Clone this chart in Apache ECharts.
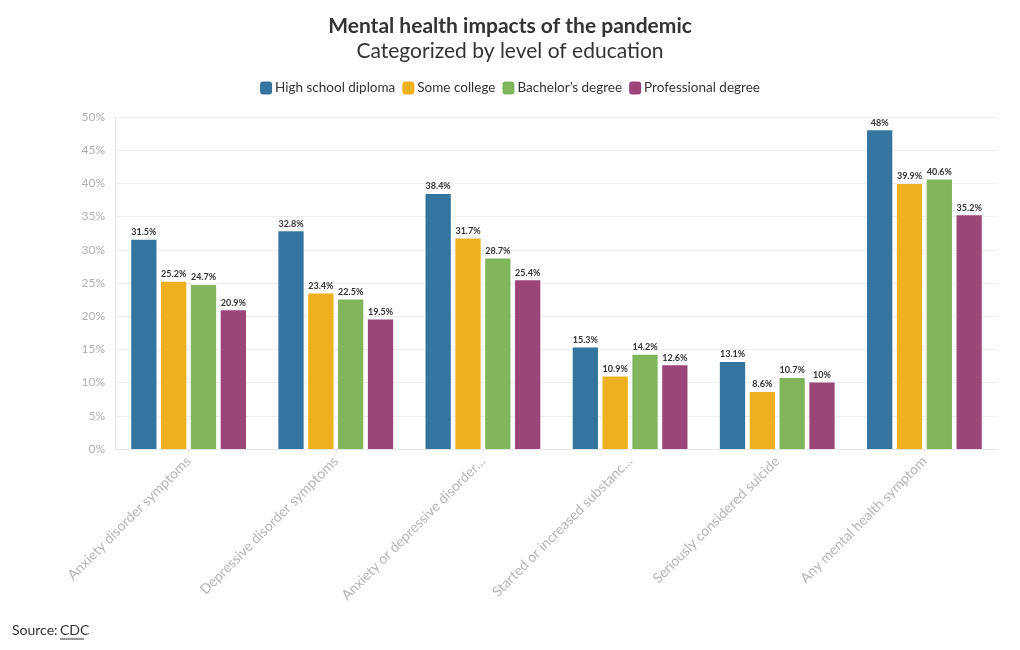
<!DOCTYPE html>
<html>
<head>
<meta charset="utf-8">
<title>Mental health impacts of the pandemic</title>
<script src="https://cdn.jsdelivr.net/npm/echarts@6/dist/echarts.min.js"></script>
<style>
  html, body { margin: 0; padding: 0; background: #ffffff; }
  #main { width: 1020px; height: 650px; }
</style>
</head>
<body>
<div id="main"></div>
<script>
// 数据
var categories = ['Anxiety disorder symptoms', 'Depressive disorder symptoms', 'Anxiety or depressive disorder…',
  'Started or increased substanc…', 'Seriously considered suicide', 'Any mental health symptom'];
var seriesNames = ['High school diploma', 'Some college', 'Bachelor’s degree', 'Professional degree'];
var highSchool = [31.5, 32.8, 38.4, 15.3, 13.1, 48];
var someCollege = [25.2, 23.4, 31.7, 10.9, 8.6, 39.9];
var bachelor = [24.7, 22.5, 28.7, 14.2, 10.7, 40.6];
var professional = [20.9, 19.5, 25.4, 12.6, 10, 35.2];
var colors = ['#34759f', '#edb120', '#80b55b', '#9c4579'];

var font = 'Lato, "Open Sans", sans-serif';
var myChart = echarts.init(document.getElementById('main'));

function bar(name, data) {
    return {
        name: name,
        type: 'bar',
        data: data,
        barGap: '18%',
        barCategoryGap: '22%',
        label: {
            show: true,
            position: 'top',
            distance: 3,
            formatter: '{c}%',
            fontFamily: font,
            fontSize: 9,
            fontWeight: 'bold',
            color: '#333'
        }
    };
}

var option = {
    color: colors,
    animation: false,
    textStyle: { fontFamily: font },
    title: {
        text: 'Mental health impacts of the pandemic',
        subtext: 'Categorized by level of education',
        left: 'center',
        top: 11,
        itemGap: 4,
        textStyle: { fontFamily: font, fontSize: 21, fontWeight: 'bold', color: '#333' },
        subtextStyle: { fontFamily: font, fontSize: 21, color: '#333' }
    },
    legend: {
        top: 76,
        left: 'center',
        itemWidth: 12,
        itemHeight: 13,
        itemGap: 7,
        icon: 'roundRect',
        textStyle: { fontFamily: font, fontSize: 13.5, color: '#333', padding: [0, 0, 0, -2] },
        data: seriesNames
    },
    grid: { left: 115, right: 22, top: 117, bottom: 201, containLabel: false },
    xAxis: {
        type: 'category',
        data: categories,
        axisLine: { lineStyle: { color: '#e6e6e6' } },
        axisTick: { show: true, alignWithLabel: true, length: 4, lineStyle: { color: '#e6e6e6' } },
        axisLabel: {
            rotate: 45,
            interval: 0,
            margin: 10,
            fontFamily: font,
            fontSize: 14,
            color: '#b5b5b5'
        }
    },
    yAxis: {
        type: 'value',
        min: 0,
        max: 50,
        interval: 5,
        axisLine: { show: true, lineStyle: { color: '#e6e6e6' } },
        axisTick: { show: false },
        splitLine: { lineStyle: { color: '#eeeeee' } },
        axisLabel: {
            formatter: '{value}%',
            fontFamily: font,
            fontSize: 12,
            color: '#b0b0b0',
            margin: 10
        }
    },
    series: [
        bar(seriesNames[0], highSchool),
        bar(seriesNames[1], someCollege),
        bar(seriesNames[2], bachelor),
        bar(seriesNames[3], professional)
    ],
    graphic: [
        {
            type: 'text',
            left: 12,
            top: 623,
            style: { text: 'Source:', font: '14px ' + font, fill: '#333' }
        },
        {
            type: 'text',
            left: 60,
            top: 623,
            style: { text: 'CDC', font: '14px ' + font, fill: '#333' }
        },
        {
            type: 'line',
            shape: { x1: 60, y1: 639, x2: 84, y2: 639 },
            style: { stroke: '#333', lineWidth: 1 }
        }
    ]
};

myChart.setOption(option);
</script>
</body>
</html>
